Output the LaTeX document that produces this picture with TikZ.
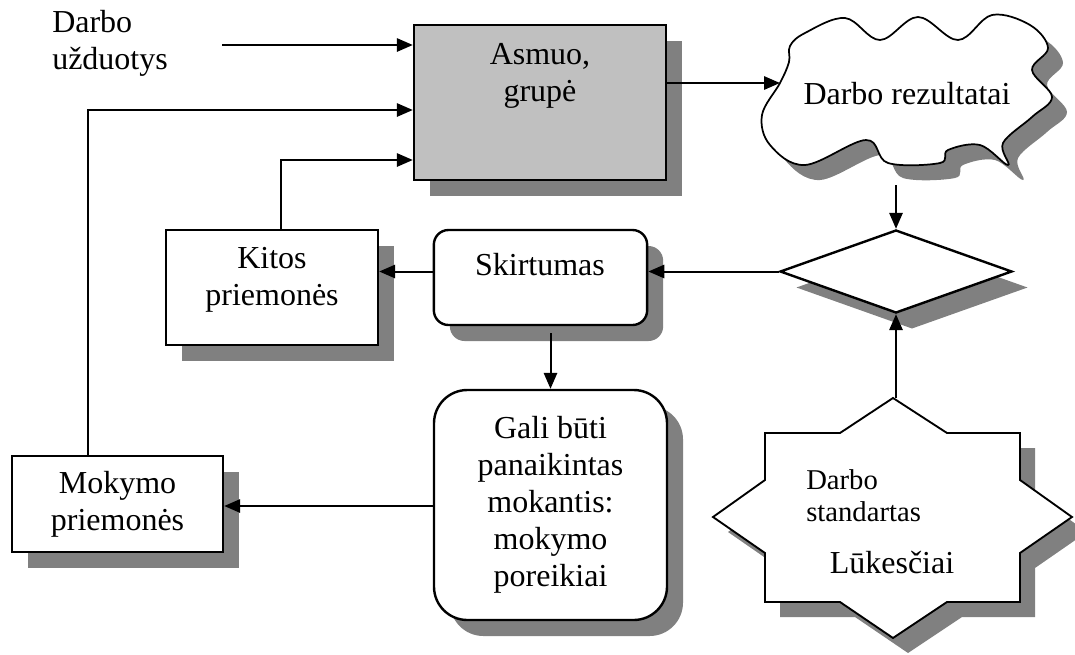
\documentclass[tikz,border=0pt]{standalone}
\usepackage{fontspec}
\setmainfont{Liberation Serif}
\usetikzlibrary{arrows.meta,shapes.geometric,shadows}

\definecolor{boxgray}{RGB}{192,192,192}
\definecolor{shadowgray}{RGB}{128,128,128}

\begin{document}
\begin{tikzpicture}[x=0.75pt,y=0.75pt,yscale=-1,xscale=1,
    every node/.style={font=\fontsize{24}{27.75}\selectfont},
    box/.style={draw, line width=1.8pt, fill=white, inner sep=0pt,
        drop shadow={shadow xshift=12pt, shadow yshift=-12pt, fill=shadowgray, opacity=1}},
    txt/.style={align=center, inner sep=0.75pt},
    arr/.style={line width=1.5pt, -{Triangle[length=12pt,width=10pt]}}]
        \useasboundingbox (0,0) rectangle (1075,654);

        %Shape: Cloud shadow
        \fill [shadowgray, shift={(15,15)}] plot [smooth cycle, tension=0.6] coordinates {(780,83) (789,62) (790,46) (805,33) (845,18) (880,40) (918,17) (958,40) (992,15) (1030,25) (1048,48) (1032,70) (1052,97) (1032,117) (1003,143) (1008,165) (980,145) (948,150) (940,163) (888,163) (866,140) (805,165) (770,145) (762,115)};
        %Shape: Cloud
        \draw [fill=white, line width=1.3pt] plot [smooth cycle, tension=0.6] coordinates {(780,83) (789,62) (790,46) (805,33) (845,18) (880,40) (918,17) (958,40) (992,15) (1030,25) (1048,48) (1032,70) (1052,97) (1032,117) (1003,143) (1008,165) (980,145) (948,150) (940,163) (888,163) (866,140) (805,165) (770,145) (762,115)};

        %Shape: Star shadow
        \fill [shadowgray, shift={(15,15)}] (893,398) -- (840,433) -- (765,433) -- (765,480) -- (713,517) -- (765,553) -- (765,602) -- (840,602) -- (893,638) -- (947,602) -- (1020,602) -- (1020,553) -- (1072,517) -- (1020,480) -- (1020,433) -- (947,433) -- cycle ;
        %Shape: Star
        \draw [fill=white, line width=1.4pt] (893,398) -- (840,433) -- (765,433) -- (765,480) -- (713,517) -- (765,553) -- (765,602) -- (840,602) -- (893,638) -- (947,602) -- (1020,602) -- (1020,553) -- (1072,517) -- (1020,480) -- (1020,433) -- (947,433) -- cycle ;

        %Shape: Rectangle
        \node [box, fill=boxgray, minimum width=189pt, minimum height=116.25pt] (asm) at (540,102.5) {};
        %Shape: Rectangle
        \node [box, minimum width=159pt, minimum height=86.25pt] (kit) at (272,287.5) {};
        %Shape: Rounded Rectangle
        \node [box, rounded corners=11pt, minimum width=160pt, minimum height=71.25pt] (skr) at (540.5,277.5) {};
        %Shape: Rounded Rectangle
        \node [box, rounded corners=25pt, minimum width=174.75pt, minimum height=172.5pt, align=center] (gal) at (550.5,505) {Gali būti\\panaikintas\\mokantis:\\mokymo\\poreikiai};
        %Shape: Rectangle
        \node [box, minimum width=158.25pt, minimum height=72pt, align=center] (mok) at (117.5,504) {Mokymo\\priemonės};
        %Shape: Diamond
        \node [box, diamond, aspect=2.8, minimum width=174pt, minimum height=62.25pt] (dia) at (896,271.5) {};

        % Text Node
        \node [txt, anchor=west, align=left] (tsk) at (51,43.5) {Darbo\\užduotys};
        % Text Node
        \node [txt] (asmlbl) at (540,76) {Asmuo,\\grupė};
        % Text Node
        \node [txt] (kitlbl) at (272,280) {Kitos\\priemonės};
        % Text Node
        \node [txt] (skrlbl) at (540,265) {Skirtumas};
        % Text Node
        \node [txt] (cld) at (907,94) {Darbo rezultatai};
        % Text Node
        \node [txt, anchor=west, align=left, font=\fontsize{21.5}{24}\selectfont] (std) at (805,496) {Darbo\\standartas};
        % Text Node
        \node [txt] (lks) at (892,563) {Lūkesčiai};

        \coordinate (tskend) at (222,45);
        \coordinate (cldw) at (780,83);
        \coordinate (clds) at (896,185);
        \coordinate (startop) at (896,398);

        %Straight Lines
        \draw [arr] (tskend) -- (tskend -| asm.west);
        \draw [arr] (mok.north -| 88,0) |- (asm.west |- 0,110);
        \draw [arr] (kit.north -| 281,0) |- (asm.west |- 0,160);
        \draw [arr] (asm.east |- cldw) -- (cldw);
        \draw [arr] (clds) -- (dia.north);
        \draw [arr] (dia.west) -- (dia.west -| skr.east);
        \draw [arr] (skr.west |- dia.west) -- (kit.east |- dia.west);
        \draw [arr] (gal.north |- 0,333) -- (gal.north);
        \draw [arr] (gal.west |- 0,506) -- (mok.east |- 0,506);
        \draw [arr] (startop) -- (dia.south);

    \end{tikzpicture}
\end{document}
